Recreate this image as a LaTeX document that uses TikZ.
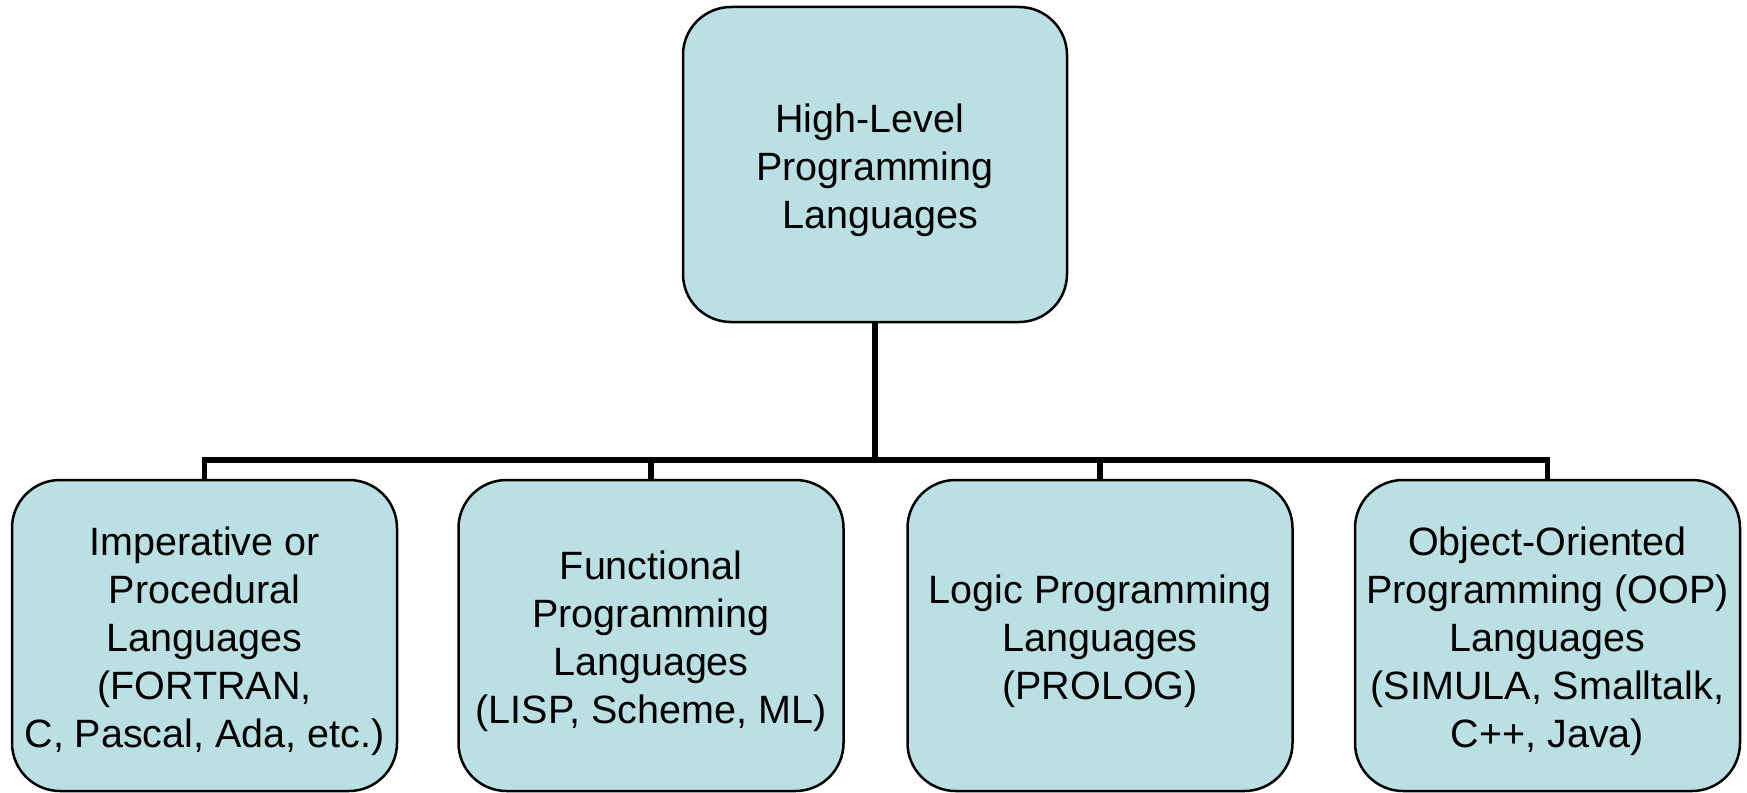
\documentclass[tikz,border=0pt]{standalone}
\usepackage{fontspec}
\setmainfont{Liberation Sans}
\definecolor{boxfill}{HTML}{BBE0E3}
\newcommand\mytopstrut{\rule{0pt}{41pt}}
\begin{document}
\begin{tikzpicture}[x=1pt,y=-1pt,
  box/.style={draw=black, line width=2.5pt, fill=boxfill, rounded corners=48pt,
    minimum width=385pt, minimum height=311pt, align=center, inner sep=0pt,
    font=\fontsize{39.5}{48}\selectfont},
  conn/.style={draw=black, line width=5.7pt}]
\useasboundingbox (0,0) rectangle (1747,792);
\node[box, minimum width=384pt, minimum height=315pt] (top) at (875,164.5)
  {\mytopstrut High-Level\hspace*{0.278em}\\Programming\\\hspace*{0.278em}Languages};
\node[box] (b1) at (204.5,635.5) {\mytopstrut Imperative or\\Procedural\\Languages\\(FORTRAN,\\C, Pascal, Ada, etc.)};
\node[box] (b2) at (651,635.5) {\mytopstrut Functional\\Programming\\Languages\\(LISP, Scheme, ML)};
\node[box] (b3) at (1100,635.5) {\mytopstrut Logic Programming\\Languages\\(PROLOG)};
\node[box] (b4) at (1547.5,635.5) {\mytopstrut Object-Oriented\\Programming (OOP)\\Languages\\(SIMULA, Smalltalk,\\C++, Java)};
\coordinate (hub) at (875,460);
\draw[conn] (top.south) -- (hub);
\draw[conn] (b1.north) |- (hub) -| (b4.north);
\draw[conn] (b2.north) -- (b2.north |- hub);
\draw[conn] (b3.north) -- (b3.north |- hub);
\end{tikzpicture}
\end{document}
